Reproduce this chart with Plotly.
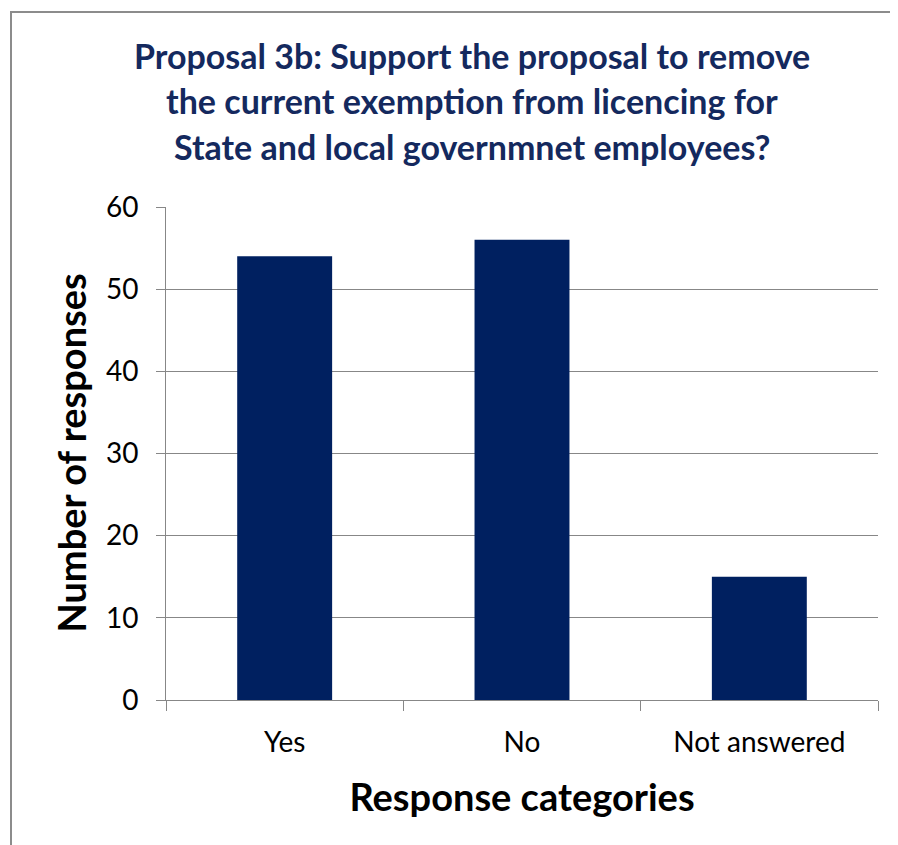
import plotly.graph_objects as go

categories = ["Yes", "No", "Not answered"]
responses = [54, 56, 15]
y_ticks = [0, 10, 20, 30, 40, 50, 60]

title_lines = [
    "Proposal 3b: Support the proposal to remove",
    "the current exemption from licencing for",
    "State and local governmnet employees?",
]
x_title = "Response categories"
y_title = "Number of responses"

FONT = "Lato, Calibri, Carlito, sans-serif"
NAVY = "#002060"
GRID = "#878787"

# page has an 8px body margin, so the figure is drawn 8px smaller
W, H = 890, 837
L, R, T, B = 158, 20, 199, 145
pw, ph = W - L - R, H - T - B

fig = go.Figure(
    go.Bar(
        x=categories,
        y=responses,
        marker=dict(color=NAVY, line=dict(width=0)),
        width=0.4,
    )
)

def px_x(p):
    return (p - L) / pw

def px_y(p):
    return (H - B - p) / ph

fig.update_layout(
    width=W,
    height=H,
    margin=dict(l=L, r=R, t=T, b=B),
    paper_bgcolor="white",
    plot_bgcolor="white",
    showlegend=False,
    font=dict(family=FONT, color="#000000"),
    xaxis=dict(
        showline=True,
        linecolor=GRID,
        linewidth=1,
        ticks="outside",
        tickson="boundaries",
        ticklen=10,
        tickcolor=GRID,
        tickfont=dict(size=28, family=FONT),
        ticklabelstandoff=17,
        showgrid=False,
        title=dict(text="<b>" + x_title + "</b>", font=dict(size=38, family=FONT), standoff=27),
    ),
    yaxis=dict(
        range=[0, 60],
        tickvals=y_ticks,
        showline=True,
        linecolor=GRID,
        linewidth=1,
        ticks="outside",
        ticklen=9,
        tickcolor=GRID,
        showgrid=True,
        gridcolor=GRID,
        gridwidth=1,
        zeroline=False,
        tickfont=dict(size=28, family=FONT),
        ticklabelstandoff=12,
    ),
)

fig.add_annotation(
    text="<b>" + y_title + "</b>",
    xref="paper", yref="paper",
    x=px_x(62), y=0.5,
    xanchor="center", yanchor="middle",
    textangle=-90,
    showarrow=False,
    font=dict(size=38, family=FONT, color="#000000"),
)

for i, line in enumerate(title_lines):
    fig.add_annotation(
        text="<b>" + line + "</b>",
        xref="paper", yref="paper",
        x=px_x(464), y=px_y(48 + 45 * i),
        xanchor="center", yanchor="middle",
        showarrow=False,
        font=dict(size=34, family=FONT, color="#14295E"),
    )

# outer chart border (top and left visible; right/bottom cropped)
fig.add_shape(
    type="rect",
    xref="paper", yref="paper",
    x0=px_x(3), x1=px_x(W + 20),
    y0=px_y(H + 20), y1=px_y(4),
    line=dict(color="#8c8c8c", width=2),
    fillcolor="rgba(0,0,0,0)",
    layer="below",
)

fig.write_html("out.html")
